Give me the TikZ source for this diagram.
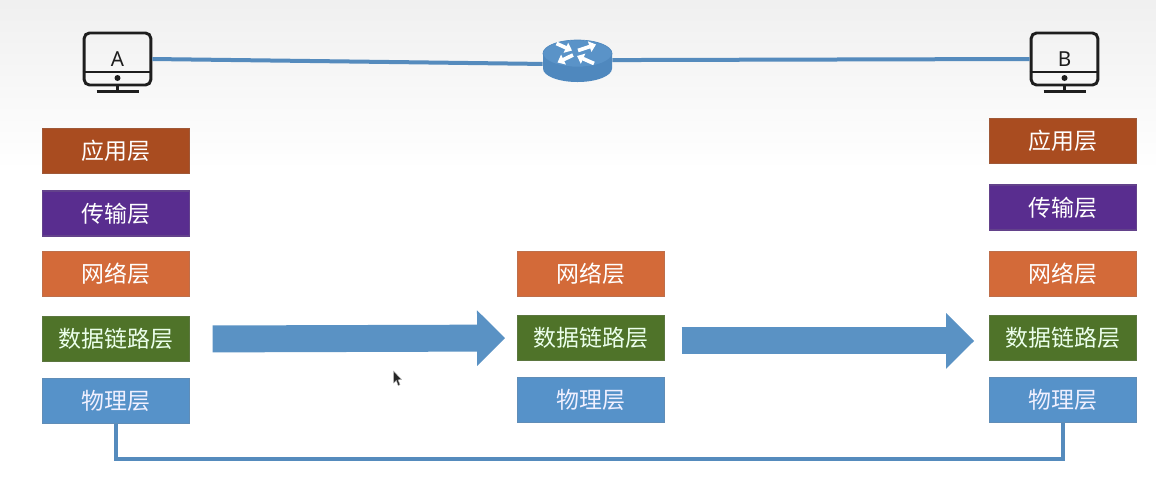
\documentclass[tikz,border=0pt]{standalone}
\usepackage{fontspec}
\setmainfont{Noto Sans}
\newfontfamily\cjk{Noto Sans CJK SC}
\usetikzlibrary{arrows.meta,calc}
\definecolor{appc}{HTML}{A94C20}
\definecolor{tranc}{HTML}{592D8F}
\definecolor{netc}{HTML}{D36A39}
\definecolor{dlc}{HTML}{4F7329}
\definecolor{phyc}{HTML}{5692C9}
\definecolor{linec}{HTML}{5A92C4}
\definecolor{wirec}{HTML}{558BBD}
\definecolor{rtop}{HTML}{5A93C8}
\definecolor{rside}{HTML}{4F88BE}
\definecolor{icon}{HTML}{1E1E1E}
\tikzset{
  layer/.style={draw=#1!75!gray, line width=0.9pt, minimum width=110pt, minimum height=33.8pt, inner sep=0pt, fill=#1, font=\cjk\fontsize{17.2}{17.2}\selectfont, text=white, anchor=center},
  monitor/.style={draw=icon, line width=2.2pt, rounded corners=4pt, minimum width=50pt, minimum height=39pt, inner sep=0pt, text=icon, font=\fontsize{15.5}{15.5}\selectfont},
  iconline/.style={draw=icon, line width=2.2pt},
  wire/.style={draw=wirec, line width=3pt},
  bigarrow/.style={draw=linec, line width=20.2pt, -{Triangle[length=21pt,width=40.5pt]}},
  routerbox/.style={minimum width=52pt, minimum height=31.5pt, inner sep=0pt},
  rarrow/.style={draw=white, line width=2.8pt, -{Triangle[length=5pt,width=8pt]}}
}
\begin{document}
\begin{tikzpicture}[x=0.75pt,y=-0.75pt]
\useasboundingbox (0,0) rectangle (1156,487);
\fill[white] (0,0) rectangle (1156,487);
\shade[top color=black!6, bottom color=white] (0,0) rectangle (1156,170);

% hosts
\node[monitor] (hostA) at (117.5,59) {A};
\node[monitor] (hostB) at (1064.5,59) {B};
\foreach \h in {hostA,hostB}{
  \draw[iconline] ($(\h.west)+(0,13)$) -- ($(\h.east)+(0,13)$);
  \fill[icon] ($(\h.center)+(0,19)$) circle[radius=3];
  \draw[iconline] (\h.south) -- ++(0,5);
  \draw[iconline] ($(\h.south)+(-21,5)$) -- ($(\h.south)+(21,5)$);
}

% router
\node[routerbox] (router) at (577.5,61) {};
\fill[rside] (543,53.5) -- (543,68.5) arc[start angle=180,end angle=0,x radius=34.5,y radius=13.5] -- (612,53.5) -- cycle;
\fill[rtop,draw=rside,line width=0.5pt] (577.5,53.5) ellipse[x radius=34.5,y radius=13.5];
\draw[rarrow] (556.5,43.5) -- (572,50.5);
\draw[rarrow] (578,50.5) -- (596,44.5);
\draw[rarrow] (573,55) -- (557.5,62.5);
\draw[rarrow] (594,63.5) -- (577,56);

% links
\draw[wire] (hostA.east) -- ([yshift=-2.2pt]router.west);
\draw[wire] ([yshift=0.7pt]router.east) -- (hostB.west);

% left stack
\node[layer=appc]  (la) at (116,151)   {应用层};
\node[layer=tranc] (lt) at (116,213.5) {传输层};
\node[layer=netc]  (ln) at (116,274)   {网络层};
\node[layer=dlc]   (ld) at (116,339)   {\color{green!8!white}数据链路层};
\node[layer=phyc]  (lp) at (116,401)   {\color{blue!6!white}物理层};
% middle stack
\node[layer=netc]  (mn) at (591,274)   {网络层};
\node[layer=dlc]   (md) at (591,338)   {\color{green!8!white}数据链路层};
\node[layer=phyc]  (mp) at (591,400)   {\color{blue!6!white}物理层};
% right stack
\node[layer=appc]  (ra) at (1063,141)  {应用层};
\node[layer=tranc] (rt) at (1063,207.5){传输层};
\node[layer=netc]  (rn) at (1063,274)  {网络层};
\node[layer=dlc]   (rd) at (1063,338)  {\color{green!8!white}数据链路层};
\node[layer=phyc]  (rp) at (1063,400)  {\color{blue!6!white}物理层};

% big arrows
\draw[bigarrow,shorten <=17pt,shorten >=9pt] (ld.east) -- (md.west);
\draw[bigarrow,shorten <=12.5pt,shorten >=11.2pt] ([yshift=-2.2pt]md.east) -- ([yshift=-2.2pt]rd.west);

% bottom physical link
\draw[wire,line width=3.4pt] (lp.south) -- (116,459) -- (1063,459) -- (rp.south);

% cursor
\fill[black!85,draw=black!30,line width=0.3pt] (393.5,371) -- (393.5,383) -- (396.3,380.3) -- (398.2,385.5) -- (400,384.7) -- (398,379.8) -- (401.5,379.5) -- cycle;
\end{tikzpicture}
\end{document}
